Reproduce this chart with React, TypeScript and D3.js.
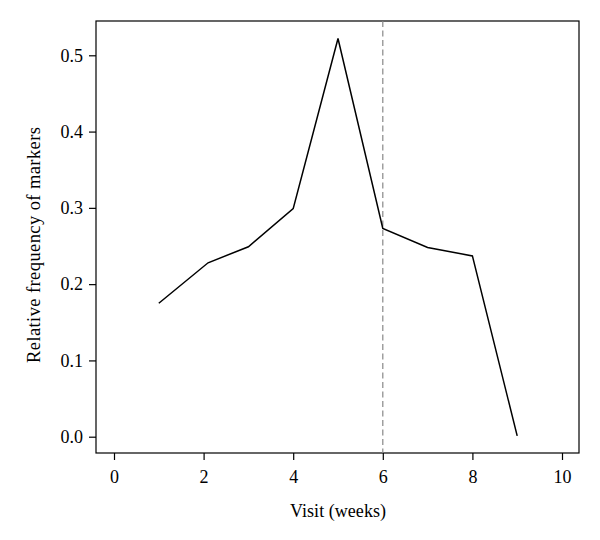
import React, { useRef, useEffect } from 'react';
import * as d3 from 'd3';

const visitWeeks = [1, 2.1, 3, 4, 5, 6, 7, 8, 9];
const relFreq = [0.175, 0.228, 0.249, 0.299, 0.522, 0.273, 0.248, 0.237, 0.001];
const xTicks = [0, 2, 4, 6, 8, 10];
const yTicks = [0, 0.1, 0.2, 0.3, 0.4, 0.5];
const cutoffWeek = 6;

const App: React.FC = () => {
  const ref = useRef<SVGSVGElement | null>(null);

  useEffect(() => {
    if (!ref.current) return;
    const width = 600;
    const height = 540;
    const box = { left: 96, right: 579, top: 21, bottom: 453 };
    const font = '"Liberation Serif", "DejaVu Serif", serif';

    const svg = d3.select(ref.current);
    svg.selectAll('*').remove();
    svg.attr('width', width).attr('height', height);

    const x = d3.scaleLinear().domain([0, 10]).range([114, 562]);
    const y = d3.scaleLinear().domain([0, 0.5]).range([436.7, 55.3]);

    // frame
    svg.append('rect')
      .attr('x', box.left)
      .attr('y', box.top)
      .attr('width', box.right - box.left)
      .attr('height', box.bottom - box.top)
      .attr('fill', 'none')
      .attr('stroke', '#000')
      .attr('stroke-width', 1.2);

    const xAxis = svg.append('g')
      .attr('transform', `translate(0,${box.bottom})`)
      .call(d3.axisBottom(x).tickValues(xTicks).tickSize(7).tickPadding(10).tickFormat(d3.format('d')));
    xAxis.select('.domain').remove();

    const yAxis = svg.append('g')
      .attr('transform', `translate(${box.left},0)`)
      .call(d3.axisLeft(y).tickValues(yTicks).tickSize(7).tickPadding(6).tickFormat(d3.format('.1f')));
    yAxis.select('.domain').remove();

    [xAxis, yAxis].forEach(g => {
      g.selectAll('line').attr('stroke', '#000').attr('stroke-width', 1.2);
      g.selectAll('text')
        .attr('fill', '#000')
        .style('font-family', font)
        .style('font-size', '18px');
    });

    // cutoff line
    svg.append('line')
      .attr('x1', x(cutoffWeek))
      .attr('x2', x(cutoffWeek))
      .attr('y1', box.top)
      .attr('y2', box.bottom)
      .attr('stroke', '#888')
      .attr('stroke-width', 1.2)
      .attr('stroke-dasharray', '6,3.5');

    const data = visitWeeks.map((w, i) => ({ x: w, y: relFreq[i] }));
    const line = d3.line<{ x: number; y: number }>()
      .x(d => x(d.x))
      .y(d => y(d.y));

    svg.append('path')
      .datum(data)
      .attr('fill', 'none')
      .attr('stroke', '#000')
      .attr('stroke-width', 1.5)
      .attr('d', line);

    svg.append('text')
      .attr('x', 338)
      .attr('y', 517)
      .attr('text-anchor', 'middle')
      .attr('textLength', 96)
      .style('font-family', font)
      .style('font-size', '18px')
      .text('Visit (weeks)');

    svg.append('text')
      .attr('transform', `translate(40,245) rotate(-90)`)
      .attr('text-anchor', 'middle')
      .attr('textLength', 236)
      .style('font-family', font)
      .style('font-size', '18.5px')
      .text('Relative frequency of markers');
  }, []);

  return <svg ref={ref} style={{ position: 'absolute', left: 0, top: 0 }}></svg>;
};

export default App;
